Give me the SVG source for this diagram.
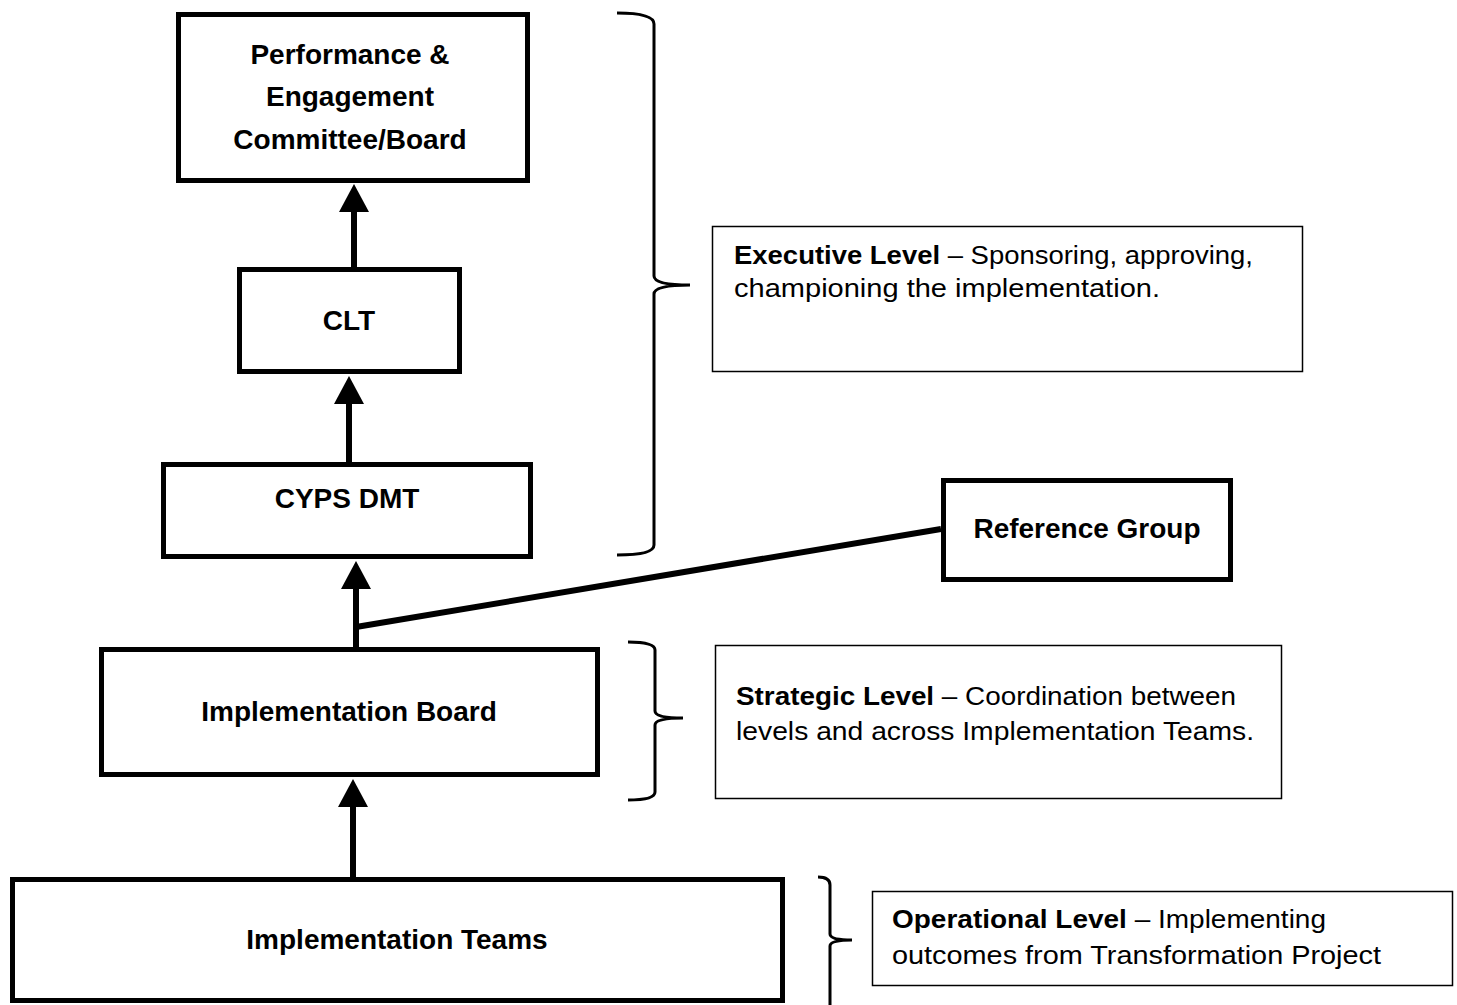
<svg xmlns="http://www.w3.org/2000/svg" width="1457" height="1005" viewBox="0 0 1457 1005">
  <style>
    .node { fill: #ffffff; stroke: #000000; stroke-width: 5; }
    .note { fill: #ffffff; stroke: #000000; stroke-width: 1.5; }
    .label { font-family: "Liberation Sans", Arial, sans-serif; font-weight: bold; font-size: 28px; fill: #000000; text-anchor: middle; }
    .body { font-family: "Liberation Sans", Arial, sans-serif; font-size: 25px; fill: #000000; }
    .body .b { font-weight: bold; }
    .conn { stroke: #000000; stroke-width: 6; fill: none; }
    .brace { stroke: #000000; stroke-width: 3; fill: none; }
  </style>
  <defs>
    <marker id="arrow" viewBox="0 0 28 30" refX="1" refY="15" markerWidth="28" markerHeight="30" markerUnits="userSpaceOnUse" orient="auto">
      <path d="M0,0 L28,15 L0,30 z" fill="#000000"/>
    </marker>
  </defs>

  <rect width="1457" height="1005" fill="#ffffff"/>

  <!-- connectors -->
  <g id="connectors">
    <line class="conn" x1="354" y1="267" x2="354" y2="211" marker-end="url(#arrow)"/>
    <line class="conn" x1="349" y1="462" x2="349" y2="403" marker-end="url(#arrow)"/>
    <line class="conn" x1="356" y1="647" x2="356" y2="588" marker-end="url(#arrow)"/>
    <line class="conn" x1="353" y1="877" x2="353" y2="806" marker-end="url(#arrow)"/>
    <line class="conn" x1="356" y1="627" x2="941" y2="529"/>
  </g>

  <!-- level braces -->
  <g id="braces">
    <path class="brace" d="M617,13 Q654,13 654,24 L654,276 Q654,285 690,285 Q654,285 654,294 L654,545 Q654,555 617,555"/>
    <path class="brace" d="M628,642 Q655,642 655,650 L655,711 Q655,718 683,718 Q655,718 655,725 L655,792 Q655,800 628,800"/>
    <path class="brace" d="M818,877 Q830,877 830,885 L830,934 Q830,940 852,940 Q830,940 830,946 L830,1010"/>
  </g>

  <!-- nodes -->
  <g id="performance-engagement">
    <rect class="node" x="178.5" y="14.5" width="349" height="166"/>
    <text class="label" x="350" y="64">Performance &amp;</text>
    <text class="label" x="350" y="106">Engagement</text>
    <text class="label" x="350" y="149">Committee/Board</text>
  </g>

  <g id="clt">
    <rect class="node" x="239.5" y="269.5" width="220" height="102"/>
    <text class="label" x="349" y="330">CLT</text>
  </g>

  <g id="cyps-dmt">
    <rect class="node" x="163.5" y="464.5" width="367" height="92"/>
    <text class="label" x="347" y="508">CYPS DMT</text>
  </g>

  <g id="reference-group">
    <rect class="node" x="943.5" y="480.5" width="287" height="99"/>
    <text class="label" x="1087" y="538">Reference Group</text>
  </g>

  <g id="implementation-board">
    <rect class="node" x="101.5" y="649.5" width="496" height="125"/>
    <text class="label" x="349" y="721">Implementation Board</text>
  </g>

  <g id="implementation-teams">
    <rect class="node" x="12.5" y="879.5" width="770" height="121"/>
    <text class="label" x="397" y="949">Implementation Teams</text>
  </g>

  <!-- level descriptions -->
  <g id="executive-level">
    <rect class="note" x="712.5" y="226.5" width="590" height="145"/>
    <text class="body" x="734" y="264" textLength="519" lengthAdjust="spacingAndGlyphs"><tspan class="b">Executive Level</tspan> – Sponsoring, approving,</text>
    <text class="body" x="734" y="297" textLength="426" lengthAdjust="spacingAndGlyphs">championing the implementation.</text>
  </g>

  <g id="strategic-level">
    <rect class="note" x="715.5" y="645.5" width="566" height="153"/>
    <text class="body" x="736" y="705" textLength="500" lengthAdjust="spacingAndGlyphs"><tspan class="b">Strategic Level</tspan> – Coordination between</text>
    <text class="body" x="736" y="740" textLength="518" lengthAdjust="spacingAndGlyphs">levels and across Implementation Teams.</text>
  </g>

  <g id="operational-level">
    <rect class="note" x="872.5" y="891.5" width="580" height="94"/>
    <text class="body" x="892" y="928" textLength="434" lengthAdjust="spacingAndGlyphs"><tspan class="b">Operational Level</tspan> – Implementing</text>
    <text class="body" x="892" y="964" textLength="489" lengthAdjust="spacingAndGlyphs">outcomes from Transformation Project</text>
  </g>
</svg>
